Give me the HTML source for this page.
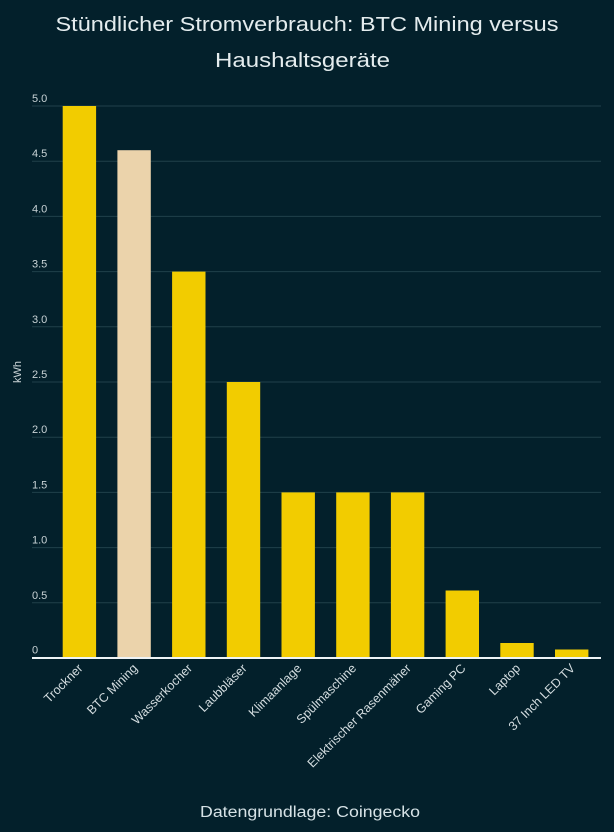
<!DOCTYPE html>
<html><head><meta charset="utf-8"><style>
html,body{margin:0;padding:0;background:#03202b;}
svg{display:block;}
text{font-family:"Liberation Sans",sans-serif;}
</style></head><body>
<svg width="614" height="832" viewBox="0 0 614 832" xmlns="http://www.w3.org/2000/svg">
<rect x="0" y="0" width="614" height="832" fill="#03202b"/>
<text x="307" y="31" text-anchor="middle" font-size="20" fill="#e4ecee" textLength="503" lengthAdjust="spacingAndGlyphs">Stündlicher Stromverbrauch: BTC Mining versus</text>
<text x="302.5" y="67" text-anchor="middle" font-size="20" fill="#e4ecee" textLength="175" lengthAdjust="spacingAndGlyphs">Haushaltsgeräte</text>
<g stroke="#21404b" stroke-width="1">
<line x1="32" x2="601" y1="106" y2="106"/>
<line x1="32" x2="601" y1="161.2" y2="161.2"/>
<line x1="32" x2="601" y1="216.4" y2="216.4"/>
<line x1="32" x2="601" y1="271.6" y2="271.6"/>
<line x1="32" x2="601" y1="326.8" y2="326.8"/>
<line x1="32" x2="601" y1="382" y2="382"/>
<line x1="32" x2="601" y1="437.2" y2="437.2"/>
<line x1="32" x2="601" y1="492.4" y2="492.4"/>
<line x1="32" x2="601" y1="547.6" y2="547.6"/>
<line x1="32" x2="601" y1="602.8" y2="602.8"/>
</g>
<g font-size="11" fill="#c9d3d6">
<text x="32" y="102">5.0</text>
<text x="32" y="157.2">4.5</text>
<text x="32" y="212.4">4.0</text>
<text x="32" y="267.6">3.5</text>
<text x="32" y="322.8">3.0</text>
<text x="32" y="378">2.5</text>
<text x="32" y="433.2">2.0</text>
<text x="32" y="488.4">1.5</text>
<text x="32" y="543.6">1.0</text>
<text x="32" y="598.8">0.5</text>
<text x="32" y="653.5">0</text>
</g>
<text transform="translate(21,372) rotate(-90)" text-anchor="middle" font-size="11" fill="#c9d3d6">kWh</text>
<g fill="#f2cc00">
<rect x="62.7" y="106" width="33.4" height="552"/>
<rect x="172.1" y="271.6" width="33.4" height="386.4"/>
<rect x="226.8" y="382" width="33.4" height="276"/>
<rect x="281.5" y="492.4" width="33.4" height="165.6"/>
<rect x="336.2" y="492.4" width="33.4" height="165.6"/>
<rect x="390.9" y="492.4" width="33.4" height="165.6"/>
<rect x="445.6" y="590.5" width="33.4" height="67.5"/>
<rect x="500.3" y="643" width="33.4" height="15"/>
<rect x="555" y="649.5" width="33.4" height="8.5"/>
</g>
<rect x="117.4" y="150.2" width="33.4" height="507.8" fill="#ebd3ab"/>
<line x1="32" x2="601" y1="658" y2="658" stroke="#eef3f5" stroke-width="2"/>
<g font-size="12.5" fill="#d4dde0" text-anchor="end">
<text transform="translate(83.5,669) rotate(-45)">Trockner</text>
<text transform="translate(138.2,669) rotate(-45)">BTC Mining</text>
<text transform="translate(192.9,669) rotate(-45)">Wasserkocher</text>
<text transform="translate(247.6,669) rotate(-45)">Laubbläser</text>
<text transform="translate(302.3,669) rotate(-45)">Klimaanlage</text>
<text transform="translate(357,669) rotate(-45)">Spülmaschine</text>
<text transform="translate(411.7,669) rotate(-45)">Elektrischer Rasenmäher</text>
<text transform="translate(466.4,669) rotate(-45)">Gaming PC</text>
<text transform="translate(521.1,669) rotate(-45)">Laptop</text>
<text transform="translate(575.8,669) rotate(-45)">37 Inch LED TV</text>
</g>
<text x="310" y="817" text-anchor="middle" font-size="15.5" fill="#d6e2e6" textLength="220" lengthAdjust="spacingAndGlyphs">Datengrundlage: Coingecko</text>
</svg>
</body></html>
